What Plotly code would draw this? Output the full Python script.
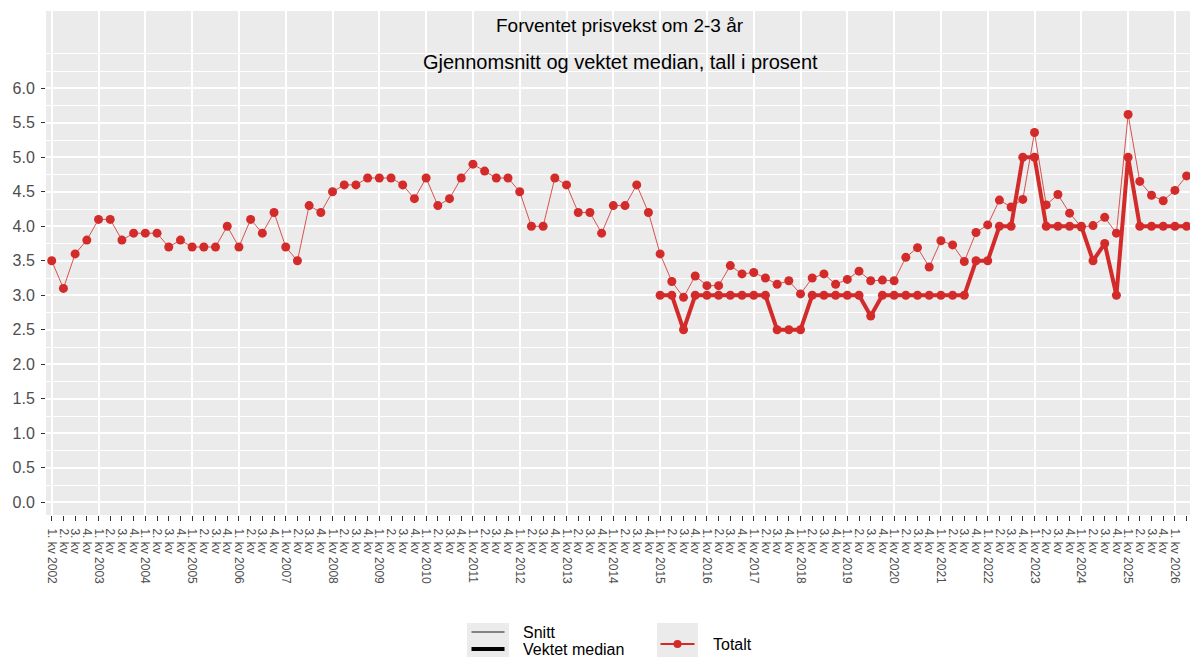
import plotly.graph_objects as go

# Quarters from 1. kv 2002 to 2. kv 2026
years = list(range(2002, 2027))
quarters = []
for y in years:
    for q in (1, 2, 3, 4):
        if y == 2026 and q > 2:
            break
        quarters.append((y, q))

tick_labels = [f"{q}. kv {y}" if q == 1 else f"{q}. kv" for (y, q) in quarters]
x_all = list(range(len(quarters)))

# Snitt (gjennomsnitt), 1. kv 2002 - 2. kv 2026
snitt = [
    3.5, 3.1, 3.6, 3.8, 4.1, 4.1, 3.8, 3.9, 3.9, 3.9, 3.7, 3.8,
    3.7, 3.7, 3.7, 4.0, 3.7, 4.1, 3.9, 4.2, 3.7, 3.5, 4.3, 4.2,
    4.5, 4.6, 4.6, 4.7, 4.7, 4.7, 4.6, 4.4, 4.7, 4.3, 4.4, 4.7,
    4.9, 4.8, 4.7, 4.7, 4.5, 4.0, 4.0, 4.7, 4.6, 4.2, 4.2, 3.9,
    4.3, 4.3, 4.6, 4.2,
    3.6, 3.2, 2.97, 3.28, 3.14, 3.14, 3.43, 3.31, 3.33, 3.25,
    3.16, 3.21, 3.02, 3.25, 3.31, 3.16, 3.23, 3.35, 3.21,
    3.22, 3.21, 3.55, 3.69, 3.41, 3.79, 3.73, 3.49, 3.91, 4.02,
    4.38, 4.28, 4.39, 5.36, 4.31, 4.46, 4.19, 3.99, 4.01, 4.13,
    3.90, 5.62, 4.65, 4.45, 4.37, 4.52, 4.73,
]

# Vektet median, 1. kv 2015 - 2. kv 2026
median_start = quarters.index((2015, 1))
median = [
    3.0, 3.0, 2.5, 3.0, 3.0, 3.0, 3.0, 3.0, 3.0, 3.0, 2.5, 2.5,
    2.5, 3.0, 3.0, 3.0, 3.0, 3.0, 2.7,
    3.0, 3.0, 3.0, 3.0, 3.0, 3.0, 3.0, 3.0, 3.5, 3.5, 4.0, 4.0,
    5.0, 5.0, 4.0, 4.0, 4.0, 4.0, 3.5, 3.75, 3.0, 5.0, 4.0, 4.0,
    4.0, 4.0, 4.0,
]
x_median = x_all[median_start:median_start + len(median)]

RED = "#d32a2a"
FONT = "Liberation Sans, Arial, Helvetica, sans-serif"
PANEL = "#ebebeb"

fig = go.Figure()

fig.add_trace(go.Scatter(
    x=x_all, y=snitt, mode="lines+markers", name="Snitt",
    line=dict(color=RED, width=0.8),
    marker=dict(color=RED, size=9),
    showlegend=False,
))
fig.add_trace(go.Scatter(
    x=x_median, y=median, mode="lines+markers", name="Vektet median",
    line=dict(color=RED, width=4),
    marker=dict(color=RED, size=9),
    showlegend=False,
))

year_starts = [i for i, (y, q) in enumerate(quarters) if q == 1]
y_major = [v / 2 for v in range(0, 13)]
y_minor = [v / 4 for v in range(1, 26) if v % 2 == 1] + [6.5]

fig.update_xaxes(
    range=[-0.49, 97.29],
    tickmode="array", tickvals=x_all, ticktext=tick_labels,
    tickangle=90,
    tickfont=dict(family=FONT, size=12, color="#4d4d4d"),
    ticks="outside", ticklen=5, tickwidth=1.3, tickcolor="#333333",
    ticklabelstandoff=5,
    showgrid=False, zeroline=False, showline=False,
    minor=dict(tickmode="array", tickvals=year_starts, showgrid=True,
               gridcolor="white", gridwidth=2, ticks=""),
)
fig.update_yaxes(
    range=[-0.184, 7.12],
    tickmode="array", tickvals=y_major,
    ticktext=[f"{v:.1f}" for v in y_major],
    tickfont=dict(family=FONT, size=16, color="#4d4d4d"),
    ticks="outside", ticklen=4, tickwidth=1.3, tickcolor="#333333",
    ticklabelstandoff=3,
    showgrid=True, gridcolor="white", gridwidth=1.6,
    zeroline=False, showline=False,
    minor=dict(tickmode="array", tickvals=y_minor, showgrid=True,
               gridcolor="white", gridwidth=1.0, ticks=""),
)

# Titles inside the panel
fig.add_annotation(text="Forventet prisvekst om 2-3 år", xref="paper", yref="paper",
                   x=0.502, y=0.972, showarrow=False, xanchor="center", yanchor="middle",
                   font=dict(family=FONT, size=19, color="black"))
fig.add_annotation(text="Gjennomsnitt og vektet median, tall i prosent", xref="paper", yref="paper",
                   x=0.502, y=0.899, showarrow=False, xanchor="center", yanchor="middle",
                   font=dict(family=FONT, size=20, color="black"))

# Legend drawn in pixel-based paper coordinates below the panel
W, H = 1190, 657
ML, MR, MT, MB = 46, 0, 11, 142
pw, ph = W - ML - MR, H - MT - MB


def px(x):
    return (x - ML) / pw


def py(y):
    return (H - MB - y) / ph


shapes = []
for x0, x1 in ((467, 509), (657, 698)):
    shapes.append(dict(type="rect", xref="paper", yref="paper",
                       x0=px(x0), x1=px(x1), y0=py(657), y1=py(623),
                       fillcolor=PANEL, line=dict(width=0), layer="below"))
shapes.append(dict(type="line", xref="paper", yref="paper",
                   x0=px(471.5), x1=px(504.5), y0=py(632), y1=py(632),
                   line=dict(color="black", width=0.9)))
shapes.append(dict(type="line", xref="paper", yref="paper",
                   x0=px(471.5), x1=px(504.5), y0=py(649), y1=py(649),
                   line=dict(color="black", width=4)))
shapes.append(dict(type="line", xref="paper", yref="paper",
                   x0=px(660.5), x1=px(694.5), y0=py(644), y1=py(644),
                   line=dict(color=RED, width=2)))
shapes.append(dict(type="circle", xref="paper", yref="paper",
                   x0=px(673.5), x1=px(681.5), y0=py(648), y1=py(640),
                   fillcolor=RED, line=dict(width=0)))

legend_texts = [("Snitt", 521, 632), ("Vektet median", 521, 649), ("Totalt", 711, 644)]
for txt, lx, ly in legend_texts:
    fig.add_annotation(text=txt, xref="paper", yref="paper", x=px(lx), y=py(ly),
                       xanchor="left", yanchor="middle", showarrow=False,
                       font=dict(family=FONT, size=16, color="black"))

fig.update_layout(
    width=W, height=H,
    margin=dict(l=ML, r=MR, t=MT, b=MB, pad=0),
    paper_bgcolor="white", plot_bgcolor=PANEL,
    shapes=shapes,
    showlegend=False,
)

fig.write_html("out.html")
